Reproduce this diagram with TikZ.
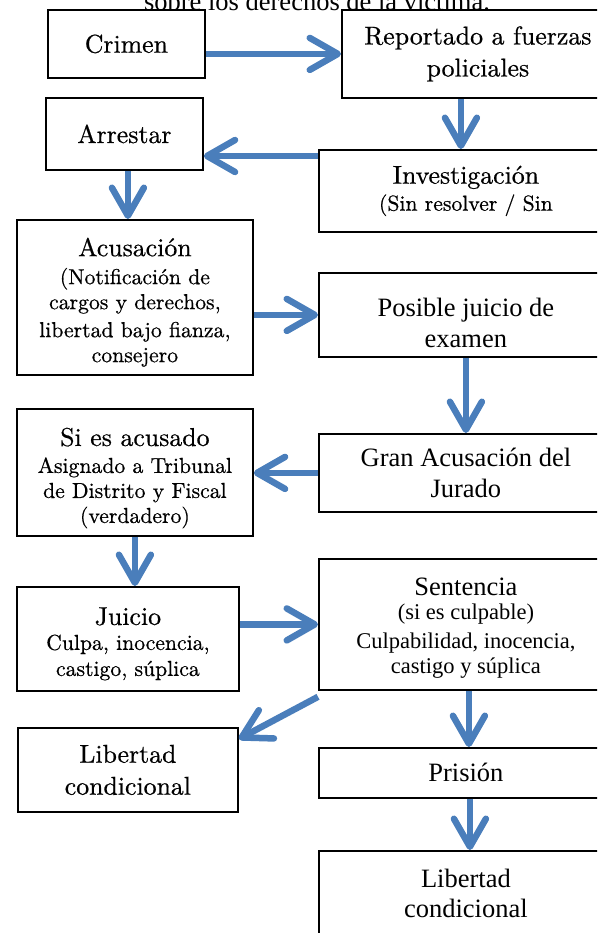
\documentclass[tikz,border=0pt]{standalone}
\usepackage{fontspec}
\newfontfamily\timesfont{Liberation Serif}
\newfontfamily\camfont[FakeBold=0.6]{lmroman10-regular.otf}
\usepackage{tikz}
\usetikzlibrary{arrows.meta,positioning}
\usepackage{xcolor}
\definecolor{flowblue}{RGB}{74,126,187}
\newcommand{\bigcam}{\camfont\fontsize{25.8}{30}\selectfont}
\newcommand{\smallcam}{\camfont\fontsize{21.7}{25}\selectfont}
\newcommand{\bigtim}{\timesfont\fontsize{26.5}{31.5}\selectfont}
\newcommand{\smalltim}{\timesfont\fontsize{22.5}{25}\selectfont}
% taller first line pushes the text block down
\newcommand{\topstrut}[1]{\rule{0pt}{#1}}

\begin{document}
\begin{tikzpicture}[
  x=1pt, y=-1pt,
  box/.style={draw, line width=1.8pt, fill=white, align=center, inner sep=0pt, anchor=north west},
  camfont/.style={font=\bigcam},
  timfont/.style={font=\bigtim},
  arrow/.style={line width=6.5pt, draw=flowblue, -{Straight Barb[length=28pt,width=32pt,round]}}
]
\useasboundingbox (0,0) rectangle (597,933);
\clip (0,0) rectangle (597,933);

% title line, cut at the top
\node[font=\bigtim, anchor=base] (titulo) at (317,11) {sobre los derechos de la víctima.};

\node[box, camfont, minimum width=157pt, minimum height=68pt] (crimen) at (47,9) {Crimen};
\node[box, camfont, minimum width=272pt, minimum height=88pt] (report) at (341,9) {Reportado a fuerzas\\[2pt]policiales};
\node[box, camfont, minimum width=157pt, minimum height=72pt] (arrest) at (45,97) {Arrestar};
\node[box, camfont, minimum width=294pt, minimum height=82pt] (inv) at (318,149) {Investigación\\[-3pt]{\smallcam(Sin resolver / Sin}};
\node[box, camfont, minimum width=236pt, minimum height=155pt] (acus) at (16,219) {\topstrut{28pt}Acusación\\[-2pt]{\smallcam (Notificación de}\\[-5pt]{\smallcam cargos y derechos,}\\[-2pt]{\smallcam libertad bajo fianza,}\\[-5pt]{\smallcam consejero}};
\node[box, timfont, minimum width=294pt, minimum height=84pt] (posible) at (318,272) {\topstrut{34pt}Posible juicio de\\[-1pt]examen};
\node[box, timfont, minimum width=294pt, minimum height=78pt] (gran) at (318,433) {Gran Acusación del\\Jurado};
\node[box, camfont, minimum width=236pt, minimum height=127pt] (siacus) at (16,408) {\topstrut{29.5pt}Si es acusado\\[-3pt]{\smallcam Asignado a Tribunal}\\[-5pt]{\smallcam de Distrito y Fiscal}\\[-5pt]{\smallcam (verdadero)}};
\node[box, camfont, minimum width=222pt, minimum height=104pt] (juicio) at (16,586) {\topstrut{27.5pt}Juicio\\[-5pt]{\smallcam Culpa, inocencia,}\\[-4pt]{\smallcam castigo, súplica}};
\node[box, timfont, minimum width=294pt, minimum height=131pt] (sent) at (318,558) {\topstrut{26pt}Sentencia\\[-7.5pt]{\smalltim (si es culpable)}\\[-2.5pt]{\smalltim Culpabilidad, inocencia,}\\[-6.5pt]{\smalltim castigo y súplica}};
\node[box, camfont, minimum width=220pt, minimum height=84pt] (libizq) at (17,727) {Libertad\\[2pt]condicional};
\node[box, timfont, minimum width=294pt, minimum height=50pt] (prision) at (318,747) {Prisión};
\node[box, timfont, minimum width=294pt, minimum height=85pt] (libder) at (318,850) {Libertad\\[-1.5pt]condicional};

% connectors
\draw[arrow] (crimen.east |- report.west) -- (report.west);
\draw[arrow] ([xshift=-17pt]report.south) -- ([xshift=-17pt]report.south |- inv.north);
\draw[arrow] ([yshift=-7pt]inv.north west) -- ([yshift=-7pt]inv.north west -| arrest.east);
\draw[arrow] ([xshift=3.5pt]arrest.south) -- ([xshift=3.5pt]arrest.south |- acus.north);
\draw[arrow] (acus.east |- posible.west) -- (posible.west);
\draw[arrow] (posible.south) -- (gran.north);
\draw[arrow] (gran.west) -- (gran.west -| siacus.east);
\draw[arrow] (siacus.south) -- (siacus.south |- juicio.north);
\draw[arrow] (juicio.east |- sent.west) -- (sent.west);
\draw[arrow] ([yshift=-6pt]sent.south west) -- ([yshift=-12pt]libizq.north east);
\draw[arrow] ([xshift=3pt]sent.south) -- ([xshift=3pt]sent.south |- prision.north);
\draw[arrow] ([xshift=4pt]prision.south) -- ([xshift=4pt]prision.south |- libder.north);
\end{tikzpicture}
\end{document}
